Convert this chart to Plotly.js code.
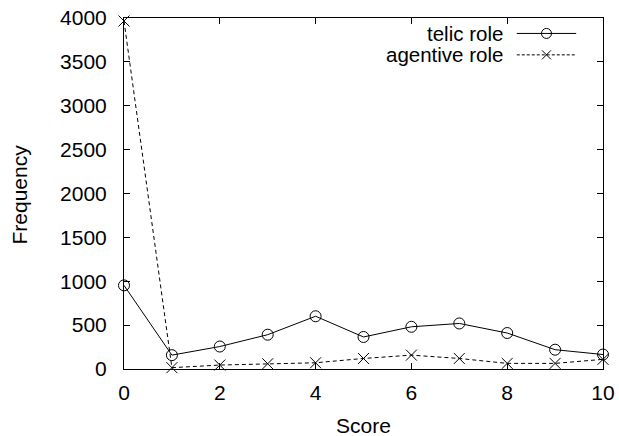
<!DOCTYPE html>
<html><head><meta charset="utf-8">
<script src="https://cdn.plot.ly/plotly-3.0.1.min.js"></script>
<style>html,body{margin:0;padding:0;background:#fff}</style>
</head><body>
<div id="chart" style="width:619px;height:436px"></div>
<script>
const scores = [0,1,2,3,4,5,6,7,8,9,10];
const telic = [953,158,256,391,601,365,481,519,410,220,165];
const agentive = [3966,15,45,60,71,120,158,120,64,64,110];
const seriesNames = ['telic role','agentive role'];
const xTicks = [0,2,4,6,8,10];
const yTicks = [0,500,1000,1500,2000,2500,3000,3500,4000];
const xTitle = 'Score';
const yTitle = 'Frequency';

const font = {family:'Liberation Sans, Arial, sans-serif', size:21, color:'#000'};
const legFont = {family:'Liberation Sans, Arial, sans-serif', size:20.5, color:'#000'};
const traces = [
  {x:scores, y:telic, name:seriesNames[0], type:'scatter', mode:'lines+markers', cliponaxis:false,
   line:{color:'#000', width:1}, marker:{symbol:'circle-open', size:11, color:'#000', line:{width:1,color:'#000'}}, showlegend:false},
  {x:scores, y:agentive, name:seriesNames[1], type:'scatter', mode:'lines+markers', cliponaxis:false,
   line:{color:'#000', width:1, dash:'4px,3px'}, marker:{symbol:'x-thin-open', size:11, color:'#000', line:{width:1,color:'#000'}}, showlegend:false}
];
const axisCommon = {showgrid:false, zeroline:false, showline:true, mirror:'ticks', linecolor:'#000', linewidth:1,
  ticks:'inside', ticklen:6, tickcolor:'#000', tickfont:font};
const yLeg1 = 0.956, yLeg2 = 0.895;
const layout = {
  width:619, height:436, margin:{l:124, r:16, t:18, b:67},
  paper_bgcolor:'#fff', plot_bgcolor:'#fff', font:font,
  xaxis:Object.assign({}, axisCommon, {range:[0,10], tickvals:xTicks, ticktext:xTicks.map(String), ticklabelstandoff:5}),
  yaxis:Object.assign({}, axisCommon, {range:[0,4000], tickvals:yTicks, ticktext:yTicks.map(String), ticklabelstandoff:12}),
  annotations:[
    {xref:'paper', yref:'paper', x:0.5, y:0, yshift:-56, xanchor:'center', yanchor:'middle', text:xTitle, showarrow:false, font:font},
    {xref:'paper', yref:'paper', x:0, y:0.5, xshift:-105, yshift:-1, xanchor:'center', yanchor:'middle', textangle:-90, text:yTitle, showarrow:false, font:font},
    {xref:'paper', yref:'paper', x:0.789, y:yLeg1, xanchor:'right', yanchor:'middle', borderpad:0, text:seriesNames[0], showarrow:false, font:legFont, xshift:2},
    {xref:'paper', yref:'paper', x:0.789, y:yLeg2, xanchor:'right', yanchor:'middle', borderpad:0, text:seriesNames[1], showarrow:false, font:legFont, xshift:2}
  ],
  shapes:[
    {type:'line', xref:'paper', yref:'paper', x0:0.82, x1:0.944, y0:yLeg1, y1:yLeg1, line:{color:'#000', width:1}},
    {type:'line', xref:'paper', yref:'paper', x0:0.82, x1:0.944, y0:yLeg2, y1:yLeg2, line:{color:'#000', width:1, dash:'3px,2px'}}
  ]
};
Plotly.newPlot('chart', traces, layout, {displayModeBar:false, staticPlot:true}).then(function(){
  const gd = document.getElementById('chart');
  const fl = gd._fullLayout;
  const xs = fl._size.l + fl._size.w*0.882;
  const svg = gd.querySelector('.main-svg');
  const ns = 'http://www.w3.org/2000/svg';
  const g = document.createElementNS(ns,'g');
  const y1 = fl._size.t + fl._size.h*(1-yLeg1);
  const y2 = fl._size.t + fl._size.h*(1-yLeg2);
  const c = document.createElementNS(ns,'circle');
  c.setAttribute('cx',xs); c.setAttribute('cy',y1); c.setAttribute('r',5);
  c.setAttribute('fill','#fff'); c.setAttribute('stroke','#000'); c.setAttribute('stroke-width',1);
  g.appendChild(c);
  const p = document.createElementNS(ns,'path');
  const r=4.5;
  p.setAttribute('d',`M${xs-r},${y2-r}L${xs+r},${y2+r}M${xs-r},${y2+r}L${xs+r},${y2-r}`);
  p.setAttribute('stroke','#000'); p.setAttribute('stroke-width',1); p.setAttribute('fill','none');
  g.appendChild(p);
  svg.appendChild(g);
});
</script>
</body></html>
